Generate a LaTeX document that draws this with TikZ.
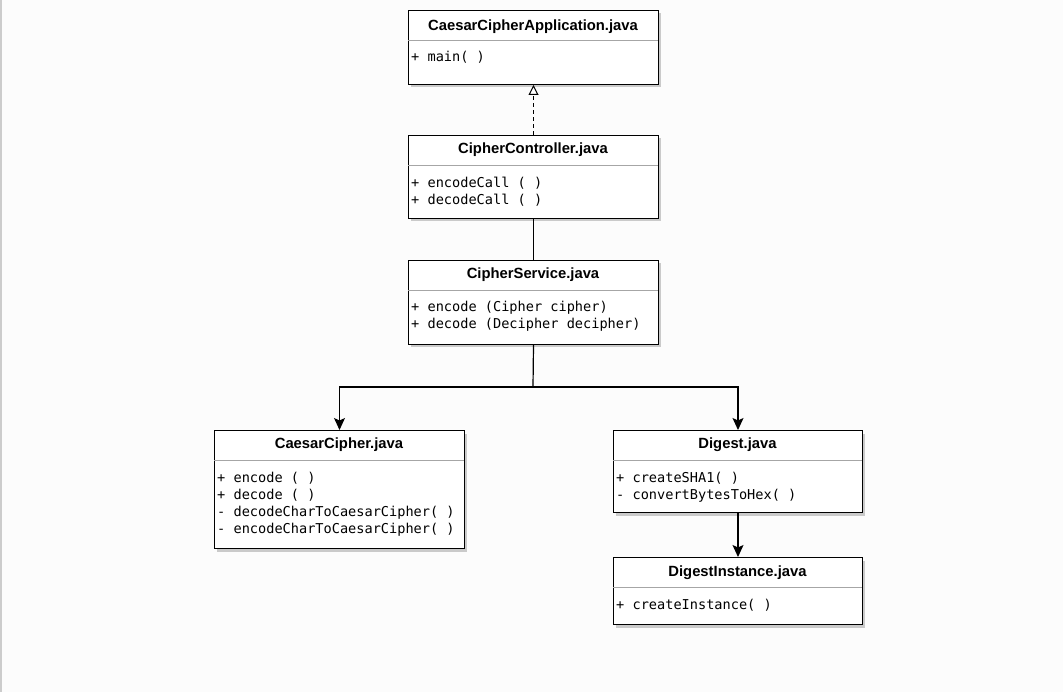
\documentclass[tikz,border=0pt]{standalone}
\usepackage{fontspec}
\setmainfont{Liberation Sans}
\newfontfamily\monof{DejaVu Sans Mono}
\usetikzlibrary{arrows.meta,shadows}
\begin{document}
\begin{tikzpicture}[x=1pt,y=-1pt,
  cls/.style={draw=black, line width=1pt, fill=white, anchor=north west, inner sep=0pt,
    minimum width=250pt, drop shadow={shadow xshift=2pt, shadow yshift=-3pt, opacity=0.4, fill=gray}},
  ttl/.style={anchor=base, inner sep=0pt, font=\fontsize{14.8}{17}\selectfont\bfseries},
  body/.style={anchor=base west, inner sep=0pt, font=\monof\fontsize{13.6}{17}\selectfont},
  sep/.style={draw=gray!70, line width=0.8pt},
  conn/.style={draw=black, line width=1.2pt},
  arr/.style={conn, -{Stealth[length=12pt,width=11pt,inset=2.5pt]}},
  impl/.style={conn, line width=1pt, dash pattern=on 4pt off 3pt, -{Triangle[open,length=10pt,width=10pt,fill=white]}}
]
\useasboundingbox[fill=white!99!black] (0,0) rectangle (1063,692);
\draw[gray!40, line width=1.5pt] (0.75,0) -- (0.75,692);

% App
\node[cls, minimum height=74pt] (app) at (408,10) {};
\node[ttl] (appt) at (533,31) {CaesarCipherApplication.java};
\draw[sep] (408,40) -- (658,40);
\node[body] (app1) at (411,62) {+ main( )};

% Controller
\node[cls, minimum height=83pt] (ctl) at (408,135) {};
\node[ttl] (ctlt) at (533,154) {CipherController.java};
\draw[sep] (408,165) -- (658,165);
\node[body] (ctl1) at (411,188) {+ encodeCall ( )};
\node[body] (ctl2) at (411,205) {+ decodeCall ( )};

% Service
\node[cls, minimum height=84pt] (svc) at (408,260) {};
\node[ttl] (svct) at (533,279) {CipherService.java};
\draw[sep] (408,290) -- (658,290);
\node[body] (svc1) at (411,312) {+ encode (Cipher cipher)};
\node[body] (svc2) at (411,329) {+ decode (Decipher decipher)};

% CaesarCipher
\node[cls, minimum height=118pt] (cc) at (214,430) {};
\node[ttl] (cct) at (339,449) {CaesarCipher.java};
\draw[sep] (214,460) -- (464,460);
\node[body] (cc1) at (217,482) {+ encode ( )};
\node[body] (cc2) at (217,499) {+ decode ( )};
\node[body] (cc3) at (217,516) {- decodeCharToCaesarCipher( )};
\node[body] (cc4) at (217,533) {- encodeCharToCaesarCipher( )};

% Digest
\node[cls, minimum height=82pt, minimum width=249pt] (dg) at (613,430) {};
\node[ttl] (dgt) at (737.5,449) {Digest.java};
\draw[sep] (613,460) -- (862,460);
\node[body] (dg1) at (616,482) {+ createSHA1( )};
\node[body] (dg2) at (616,499) {- convertBytesToHex( )};

% DigestInstance
\node[cls, minimum height=67pt, minimum width=249pt] (di) at (613,557) {};
\node[ttl] (dit) at (737.5,576) {DigestInstance.java};
\draw[sep] (613,587) -- (862,587);
\node[body] (di1) at (616,609) {+ createInstance( )};

% connectors
\draw[impl] (ctl.north) -- (app.south);
\draw[conn] (ctl.south) -- (svc.north);
\coordinate (j) at (533,387);
\draw[conn] (svc.south) -- (j);
\draw[arr] (j) -| (cc.north);
\draw[arr] (j) -| (dg.north);
\draw[arr] (dg.south) -- (di.north);
\end{tikzpicture}
\end{document}
